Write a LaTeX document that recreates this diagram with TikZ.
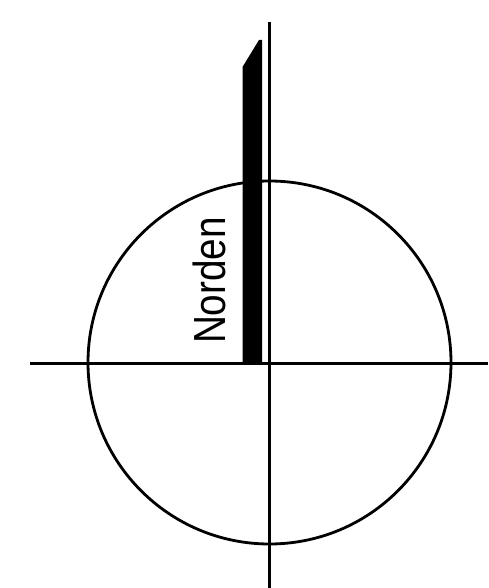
\documentclass[tikz,border=0pt]{standalone}
\usepackage{fontspec}
\setmainfont{Liberation Sans}
\usetikzlibrary{positioning,calc}
\tikzset{
  axis/.style={line width=3pt, black},
  ring/.style={circle, draw=black, line width=2.8pt, minimum size=363pt, inner sep=0pt},
  needle/.style={fill=black, draw=none},
  label/.style={rotate=90, font=\fontsize{45}{45}\selectfont, inner sep=0pt},
}

\begin{document}
\begin{tikzpicture}[x=1pt, y=-1pt]
\useasboundingbox (0,0) rectangle (488,588);

% Compass circle
\node[ring] (dial) at (269.5,362.5) {};

% Axes
\coordinate (west) at (30,363);
\coordinate (east) at (488,363);
\coordinate (north) at (269,22);
\coordinate (south) at (269,588);
\draw[axis] (west) -- (east);
\draw[axis] (north) -- (south);

% North needle
\fill[needle] (242.5,363) -- (242.5,67) -- (259,40) -- (262,40) -- (262,363) -- cycle;

% Label
\node[label] (norden) at (209,280.5) {\scalebox{0.86}[1]{Norden}};

\end{tikzpicture}
\end{document}
